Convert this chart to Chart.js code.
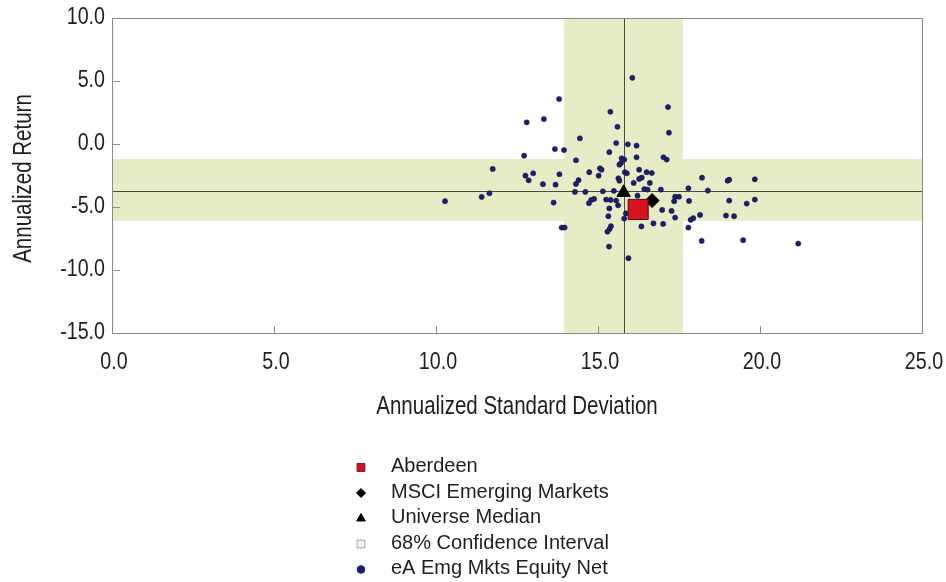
<!DOCTYPE html>
<html>
<head>
<meta charset="utf-8">
<script src="https://cdn.jsdelivr.net/npm/chart.js@4.4.1/dist/chart.umd.min.js"></script>
<style>
  html, body { margin: 0; padding: 0; background: #fff; }
  #wrap { width: 946px; height: 582px; position: relative; }
</style>
</head>
<body>
<div id="wrap"><canvas id="riskReturnChart"></canvas></div>
<script>
// eA Emg Mkts Equity Net universe (std dev / return)
const universeStdDev = [
  13.80, 12.80, 13.33, 14.44, 13.67, 13.95, 12.72, 14.32, 11.75, 13.00,
  12.76, 12.86, 13.81, 14.73, 13.30, 13.69, 14.32, 14.40, 14.29, 14.61,
  11.65, 11.41, 10.28, 13.63, 14.88, 14.79, 14.72, 13.88, 13.97, 15.56,
  15.92, 16.19, 15.35, 15.73, 15.81, 16.19, 17.02, 17.12, 15.66, 15.71,
  15.06, 15.11, 16.27, 15.02, 15.83, 15.89, 15.63, 15.66, 16.50, 16.66,
  16.35, 16.27, 16.10, 16.60, 15.15, 15.49, 16.43, 16.53, 16.94, 16.22,
  15.25, 15.39, 15.56, 15.62, 15.35, 15.86, 16.98, 15.32, 15.81, 15.40,
  15.36, 15.29, 16.34, 16.71, 17.01, 15.38, 15.60, 16.06, 17.16, 17.19,
  15.34, 15.94, 18.21, 19.00, 19.05, 19.84, 17.79, 18.39, 17.38, 17.50,
  17.35, 17.81, 19.05, 19.59, 19.84, 17.27, 17.38, 18.15, 17.94, 17.86,
  18.95, 19.20, 17.79, 18.20, 19.48, 21.18
];
const universeReturn = [
   3.57,  1.72,  1.98,  0.45, -0.40, -0.48, -0.93, -1.29, -1.98, -2.32,
  -2.51, -2.88, -2.40, -2.24, -3.19, -3.23, -3.17, -2.87, -3.80, -3.80,
  -3.91, -4.20, -4.54, -4.65, -4.36, -4.44, -4.70, -6.63, -6.63,  0.08,
  -0.02, -0.13, -0.65, -1.13, -1.24, -1.05, -1.05, -1.24, -1.64, -1.51,
  -1.93, -2.04, -2.04, -2.51, -2.24, -2.32, -2.72, -2.91, -2.24, -2.30,
  -2.67, -2.77, -3.09, -3.09, -3.75, -3.72, -3.57, -3.62, -3.62, -4.10,
  -4.41, -4.44, -4.49, -4.87, -5.11, -5.51, -5.23, -5.73, -5.92, -6.52,
  -6.74, -6.96, -6.54, -6.30, -6.34,  2.56,  1.37,  5.25,  2.93,  0.90,
  -8.14, -9.06, -2.67, -2.91, -2.83, -2.80, -3.51, -3.70, -4.18, -4.18,
  -4.54, -4.52, -4.49, -4.73, -4.41, -5.31, -5.84, -5.63, -5.89, -6.02,
  -5.68, -5.73, -6.63, -7.69, -7.63, -7.90
];

const aberdeenStdDev = [16.24];
const aberdeenReturn = [-5.19];
const msciStdDev = [16.67];
const msciReturn = [-4.49];
const medianPointStdDev = [15.79];
const medianPointReturn = [-3.85];

// median cross-hairs and 68% confidence bands
const medianStdDev = 15.79;
const medianReturn = -3.70;
const ciStdDev = [13.95, 17.62];
const ciReturn = [-6.10, -1.19];

const xTicks = [0, 5, 10, 15, 20, 25];
const yTicks = [-15, -10, -5, 0, 5, 10];

const xTitle = "Annualized Standard Deviation";
const yTitle = "Annualized Return";
const legendLabels = [
  "Aberdeen",
  "MSCI Emerging Markets",
  "Universe Median",
  "68% Confidence Interval",
  "eA Emg Mkts Equity Net",
];

const SANS = "'Liberation Sans', Arial, sans-serif";
const NARROW = 0.82; // no narrow face installed, squeeze the regular one
const TEXT = "#1e1e1e";
const BAND = "#e7ebc6";
const FRAME = "#8c8c8c";

const toPoints = (xs, ys) => xs.map((x, i) => ({ x: x, y: ys[i] }));

const legendMarkers = [
  { style: "rect", radius: 5.5, fill: "#d4122b", stroke: "#7a0a14" },
  { style: "rectRot", radius: 4.5, fill: "#000", stroke: "#000" },
  { style: "triangle", radius: 5, fill: "#000", stroke: "#000" },
  { style: "rect", radius: 5.5, fill: "#f2f2f2", stroke: "#a0a0a0" },
  { style: "circle", radius: 3.8, fill: "#1c1f6b", stroke: "#1c1f6b" },
];

// condensed text helper
function narrowText(ctx, text, x, y, size, align, rotate) {
  ctx.save();
  ctx.translate(x, y);
  if (rotate) ctx.rotate(-Math.PI / 2);
  ctx.scale(NARROW, 1);
  ctx.font = size + "px " + SANS;
  ctx.textAlign = align;
  ctx.textBaseline = "middle";
  ctx.fillStyle = TEXT;
  ctx.fillText(text, 0, 0);
  ctx.restore();
}

const bandsPlugin = {
  id: "bands",
  beforeDatasetsDraw(chart) {
    const { ctx, chartArea: a, scales: { x, y } } = chart;
    ctx.save();
    ctx.fillStyle = BAND;
    const x0 = x.getPixelForValue(ciStdDev[0]);
    const x1 = x.getPixelForValue(ciStdDev[1]);
    const y0 = y.getPixelForValue(ciReturn[1]);
    const y1 = y.getPixelForValue(ciReturn[0]);
    ctx.fillRect(x0, a.top, x1 - x0, a.bottom - a.top);
    ctx.fillRect(a.left, y0, a.right - a.left, y1 - y0);

    ctx.strokeStyle = "#4a4a40";
    ctx.lineWidth = 1;
    const mx = Math.round(x.getPixelForValue(medianStdDev)) + 0.5;
    const my = Math.round(y.getPixelForValue(medianReturn)) + 0.5;
    ctx.beginPath();
    ctx.moveTo(mx, a.top);
    ctx.lineTo(mx, a.bottom);
    ctx.moveTo(a.left, my);
    ctx.lineTo(a.right, my);
    ctx.stroke();
    ctx.restore();
  },
  afterDraw(chart) {
    const { ctx, chartArea: a, scales: { x, y } } = chart;
    ctx.save();
    // frame + inward tick marks
    ctx.strokeStyle = FRAME;
    ctx.lineWidth = 1;
    ctx.strokeRect(Math.round(a.left) + 0.5, Math.round(a.top) + 0.5,
      Math.round(a.right - a.left), Math.round(a.bottom - a.top));
    ctx.beginPath();
    xTicks.forEach((v) => {
      const px = Math.round(x.getPixelForValue(v)) + 0.5;
      ctx.moveTo(px, a.bottom);
      ctx.lineTo(px, a.bottom - 7);
    });
    yTicks.forEach((v) => {
      const py = Math.round(y.getPixelForValue(v)) + 0.5;
      ctx.moveTo(a.left, py);
      ctx.lineTo(a.left + 8, py);
    });
    ctx.stroke();

    // tick labels and axis titles
    x.ticks.forEach((t) => {
      narrowText(ctx, t.value.toFixed(1), x.getPixelForValue(t.value) + 2, a.bottom + 29, 24, "center");
    });
    y.ticks.forEach((t) => {
      narrowText(ctx, t.value.toFixed(1), a.left - 7, y.getPixelForValue(t.value) - 1, 24, "right");
    });
    narrowText(ctx, xTitle, (a.left + a.right) / 2, a.bottom + 74, 25, "center");
    narrowText(ctx, yTitle, 24, (a.top + a.bottom) / 2 + 3, 25, "center", true);

    // vertical legend under the plot
    const lx = 361, tx = 391, ly = 466.5, step = 25.5;
    ctx.font = "20px " + SANS;
    ctx.textBaseline = "middle";
    ctx.textAlign = "left";
    legendLabels.forEach((label, i) => {
      const m = legendMarkers[i];
      const cy = ly + i * step;
      ctx.fillStyle = m.fill;
      ctx.strokeStyle = m.stroke;
      ctx.lineWidth = 1;
      Chart.helpers.drawPoint(ctx, { pointStyle: m.style, radius: m.radius, rotation: 0, borderWidth: 1 }, lx, cy + 1);
      ctx.fillStyle = TEXT;
      ctx.fillText(label, tx, cy);
    });
    ctx.restore();
  },
};

const data = {
  datasets: [
    {
      label: legendLabels[0],
      data: toPoints(aberdeenStdDev, aberdeenReturn),
      pointStyle: "rect",
      pointRadius: 14.2,
      backgroundColor: "#d9121f",
      borderColor: "#5a0a0f",
      borderWidth: 1,
    },
    {
      label: legendLabels[1],
      data: toPoints(msciStdDev, msciReturn),
      pointStyle: "rectRot",
      pointRadius: 7,
      backgroundColor: "#000",
      borderColor: "#000",
      borderWidth: 1,
    },
    {
      label: legendLabels[2],
      data: toPoints(medianPointStdDev, medianPointReturn),
      pointStyle: "triangle",
      pointRadius: 7.7,
      backgroundColor: "#000",
      borderColor: "#000",
      borderWidth: 1,
    },
    {
      label: legendLabels[4],
      data: toPoints(universeStdDev, universeReturn),
      pointStyle: "circle",
      pointRadius: 2.6,
      backgroundColor: "#1c1f6b",
      borderColor: "#14164f",
      borderWidth: 0.5,
    },
  ],
};

const options = {
  responsive: false,
  animation: false,
  events: [],
  layout: { padding: { top: 18, right: 24, bottom: 582 - 333 - 92, left: 0 } },
  plugins: {
    legend: { display: false },
    tooltip: { enabled: false },
  },
  scales: {
    x: {
      type: "linear",
      min: 0,
      max: 25,
      afterBuildTicks: (s) => { s.ticks = xTicks.map((v) => ({ value: v })); },
      afterFit: (s) => { s.height = 92; s.paddingLeft = 0; s.paddingRight = 0; },
      grid: { display: false },
      border: { display: false },
      ticks: { display: false },
    },
    y: {
      type: "linear",
      min: -15,
      max: 10,
      afterBuildTicks: (s) => { s.ticks = yTicks.map((v) => ({ value: v })); },
      afterFit: (s) => { s.width = 112; s.paddingTop = 0; s.paddingBottom = 0; },
      grid: { display: false },
      border: { display: false },
      ticks: { display: false },
    },
  },
};

const canvas = document.getElementById("riskReturnChart");
canvas.width = 946;
canvas.height = 582;
new Chart(canvas, { type: "scatter", data: data, options: options, plugins: [bandsPlugin] });
</script>
</body>
</html>
